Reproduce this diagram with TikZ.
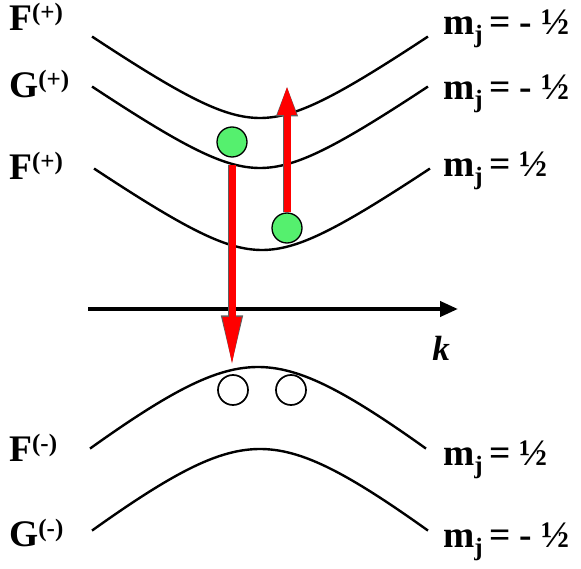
\documentclass[tikz,border=0pt]{standalone}
\usepackage{fontspec}
\setmainfont{Liberation Serif}
\usetikzlibrary{arrows.meta, calc}
\definecolor{electron}{RGB}{85,240,110}
\definecolor{transition}{RGB}{255,0,0}
\definecolor{rim}{RGB}{95,95,95}
\newcommand{\bandname}[2]{#1\raisebox{10pt}{\fontsize{25}{25}\selectfont(#2)}}
\newcommand{\spinval}[1]{m\raisebox{-8pt}{\fontsize{25}{25}\selectfont j}\,= #1}
\tikzset{
    band/.style={
        draw=black,
        line width=2.4pt
    },
    lvl/.style={
        anchor=base west,
        inner sep=0pt,
        font=\fontsize{37.5}{40}\selectfont\bfseries
    },
    carrier/.style={
        circle,
        draw=black,
        line width=1.7pt,
        minimum size=30pt,
        inner sep=0pt
    },
    redarrow/.style 2 args={
        draw=transition,
        line width=7pt,
        -{Triangle[length=#1, width=17pt]},
        preaction={draw=rim, line width=8.6pt, -{Triangle[length=#2, width=19.5pt]}}
    }
}

\begin{document}
\begin{tikzpicture}[
    x=1pt, y=-1pt,
    axis/.style={
        line width=4pt,
        -{Triangle[length=18pt, width=15pt]}
    }
]
\useasboundingbox (0,0) rectangle (581,569);

% =========================
% Bande di conduzione
% =========================
\draw[band] plot[domain=-168:168, samples=80, smooth]
    ({260+\x}, {118-46*(sqrt(1+(\x/65)^2)-1)});
\draw[band] plot[domain=-168:168, samples=80, smooth]
    ({260+\x}, {168-46*(sqrt(1+(\x/65)^2)-1)});
\draw[band] plot[domain=-168:168, samples=80, smooth]
    ({262+\x}, {250-46*(sqrt(1+(\x/65)^2)-1)});

% =========================
% Bande di valenza
% =========================
\draw[band] plot[domain=-168:168, samples=80, smooth]
    ({258+\x}, {367+73*(sqrt(1+(\x/90)^2)-1)});
\draw[band] plot[domain=-168:168, samples=80, smooth]
    ({260+\x}, {449+73*(sqrt(1+(\x/90)^2)-1)});

% =========================
% Asse k
% =========================
\coordinate (axisL) at (88,309);
\coordinate (axisR) at (458,309);
\draw[axis] (axisL) -- (axisR);
\node[font=\fontsize{35}{35}\selectfont\bfseries\itshape, anchor=base, inner sep=0pt]
    (klabel) at (441,360) {k};

% =========================
% Nomi delle bande
% =========================
\node[lvl] (lblF1) at (9,31)  {\bandname{F}{+}};
\node[lvl] (lblG1) at (9,98)  {\bandname{G}{+}};
\node[lvl] (lblF2) at (9,180) {\bandname{F}{+}};
\node[lvl] (lblF3) at (9,461) {\bandname{F}{-}};
\node[lvl] (lblG2) at (9,546) {\bandname{G}{-}};

% =========================
% Valori di m_j
% =========================
\node[lvl] (mj1) at (443,35)  {\spinval{- ½}};
\node[lvl] (mj2) at (443,100) {\spinval{- ½}};
\node[lvl] (mj3) at (443,177) {\spinval{½}};
\node[lvl] (mj4) at (443,465) {\spinval{½}};
\node[lvl] (mj5) at (443,547) {\spinval{- ½}};

% =========================
% Elettroni e lacune
% =========================
\node[carrier, fill=electron, line width=1.3pt] (elecG) at (232,142) {};
\node[carrier, fill=electron, line width=1.3pt] (elecF) at (287,228) {};
\node[carrier] (holeL) at (233,390) {};
\node[carrier] (holeR) at (291,390) {};

% =========================
% Transizioni
% =========================
\coordinate (downstart) at ($(elecG.south)+(0,7)$);
\coordinate (downtip)   at (elecG |- 0,367);
\coordinate (uptip)     at (elecF |- 0,85);

\draw[redarrow={50pt}{51.5pt}] (downstart) -- (downtip);
\draw[redarrow={30pt}{31.5pt}] (elecF.north) -- (uptip);

\end{tikzpicture}
\end{document}
